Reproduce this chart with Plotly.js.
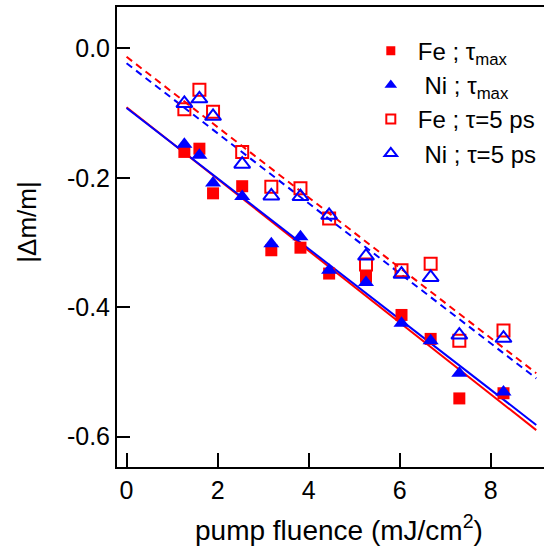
<!DOCTYPE html>
<html>
<head>
<meta charset="utf-8">
<script src="https://cdn.plot.ly/plotly-3.0.1.min.js"></script>
<style>html,body{margin:0;padding:0;background:#fff;}#chart{width:544px;height:548px;}</style>
</head>
<body>
<div id="chart"></div>
<script>
// ---- data ----
const fluence = [1.27, 1.60, 1.90, 2.54, 3.18, 3.82, 4.45, 5.26, 6.04, 6.68, 7.31, 8.28];
const feTauMax = [-0.160, -0.155, -0.224, -0.213, -0.312, -0.308, -0.348, -0.353, -0.412, -0.449, -0.541, -0.533];
const niTauMax = [-0.148, -0.165, -0.208, -0.229, -0.302, -0.291, -0.343, -0.362, -0.425, -0.452, -0.502, -0.531];
const feTau5 = [-0.094, -0.064, -0.098, -0.160, -0.214, -0.216, -0.263, -0.334, -0.343, -0.333, -0.452, -0.436];
const niTau5 = [-0.085, -0.078, -0.105, -0.179, -0.228, -0.229, -0.258, -0.321, -0.349, -0.354, -0.443, -0.448];
const fitX = [0, 9];
const feFitMax = [-0.091, -0.590];
const niFitMax = [-0.092, -0.582];
const feFit5 = [-0.013, -0.502];
const niFit5 = [-0.023, -0.510];
const xTickVals = [0, 2, 4, 6, 8];
const xTickText = ['0', '2', '4', '6', '8'];
const yTickVals = [0, -0.2, -0.4, -0.6];
const yTickText = ['0.0', '-0.2', '-0.4', '-0.6'];
const seriesNames = ['Fe ; τ<sub>max</sub>', '\u00a0Ni ; τ<sub>max</sub>', 'Fe ; τ=5 ps', '\u00a0Ni ; τ=5 ps'];
const xTitle = 'pump fluence (mJ/cm<sup>2</sup>)';
const yTitle = '|Δm/m|';

const RED = 'rgb(255,0,0)', BLUE = 'rgb(0,0,255)';
const FONT = 'Liberation Sans, Arial, Helvetica, sans-serif';

const styles = [
  {symbol: 'square', size: 12, color: RED, line: {width: 0}},
  {symbol: 'triangle-up', size: 14, color: BLUE, line: {width: 0}},
  {symbol: 'square-open', size: 12, color: RED, line: {width: 2, color: RED}},
  {symbol: 'triangle-up-open', size: 14, color: BLUE, line: {width: 2, color: BLUE}}
];
const legendStyles = [
  {symbol: 'square', size: 9, color: RED, line: {width: 0}},
  {symbol: 'triangle-up', size: 11, color: BLUE, line: {width: 0}},
  {symbol: 'square-open', size: 9, color: RED, line: {width: 2, color: RED}},
  {symbol: 'triangle-up-open', size: 11, color: BLUE, line: {width: 2, color: BLUE}}
];
const seriesY = [feTauMax, niTauMax, feTau5, niTau5];

const traces = [
  {x: fitX, y: feFitMax, mode: 'lines', line: {color: RED, width: 2}, showlegend: false, hoverinfo: 'skip'},
  {x: fitX, y: niFitMax, mode: 'lines', line: {color: BLUE, width: 2}, showlegend: false, hoverinfo: 'skip'},
  {x: fitX, y: feFit5, mode: 'lines', line: {color: RED, width: 2, dash: '7px,5px'}, showlegend: false, hoverinfo: 'skip'},
  {x: fitX, y: niFit5, mode: 'lines', line: {color: BLUE, width: 2, dash: '7px,5px'}, showlegend: false, hoverinfo: 'skip'}
];
seriesY.forEach((ys, i) => {
  traces.push({x: fluence, y: ys, mode: 'markers', name: seriesNames[i], legendgroup: 'g' + i,
               showlegend: false, marker: styles[i]});
});
seriesY.forEach((ys, i) => {
  traces.push({x: [null], y: [null], mode: 'markers', name: seriesNames[i], legendgroup: 'g' + i,
               showlegend: true, marker: legendStyles[i], hoverinfo: 'skip'});
});

const layout = {
  width: 544, height: 548,
  margin: {l: 117, r: 0, t: 7, b: 81, pad: 0},
  paper_bgcolor: '#fff', plot_bgcolor: '#fff',
  font: {family: FONT, size: 24, color: '#000'},
  showlegend: true,
  legend: {x: 0.578, y: 0.953, xanchor: 'left', yanchor: 'top', bgcolor: 'rgba(0,0,0,0)',
           borderwidth: 0, itemwidth: 44, tracegroupgap: 0,
           font: {family: FONT, size: 24, color: '#000'}},
  xaxis: {
    range: [-0.21, 9.17], showgrid: false, zeroline: false,
    showline: true, linecolor: '#000', linewidth: 2, mirror: true,
    ticks: 'inside', ticklen: 14, tickwidth: 2, tickcolor: '#000',
    tickmode: 'array', tickvals: xTickVals, ticktext: xTickText,
    tickfont: {family: FONT, size: 25}
  },
  yaxis: {
    range: [-0.647, 0.064], showgrid: false, zeroline: false,
    showline: true, linecolor: '#000', linewidth: 2, mirror: false,
    ticks: 'inside', ticklen: 13, tickwidth: 2, tickcolor: '#000',
    tickmode: 'array', tickvals: yTickVals, ticktext: yTickText,
    tickfont: {family: FONT, size: 25}
  },
  annotations: [
    {text: xTitle, xref: 'paper', yref: 'paper', x: 0.519, y: -0.175, xanchor: 'center', yanchor: 'bottom',
     showarrow: false, font: {family: FONT, size: 28, color: '#000'}},
    {text: yTitle, xref: 'paper', yref: 'paper', x: -0.211, y: 0.533, xanchor: 'center', yanchor: 'middle',
     textangle: -90, showarrow: false, font: {family: FONT, size: 26, color: '#000'}}
  ]
};

Plotly.newPlot('chart', traces, layout, {displayModeBar: false, staticPlot: true});
</script>
</body>
</html>
